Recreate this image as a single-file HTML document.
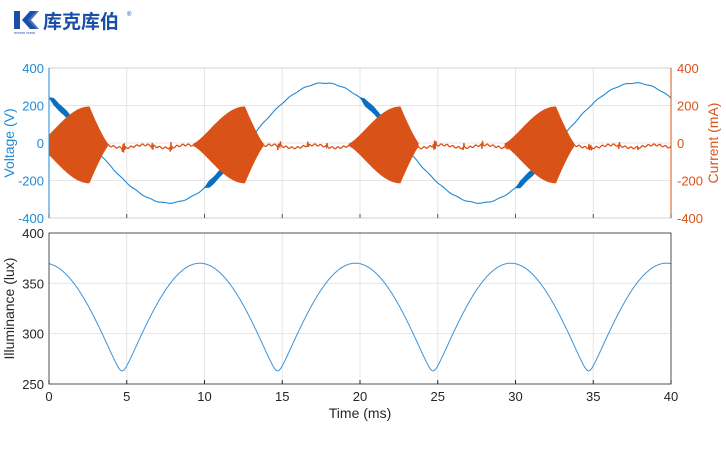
<!DOCTYPE html>
<html><head><meta charset="utf-8"><style>
body{margin:0;background:#fff;width:726px;height:450px;overflow:hidden;font-family:"Liberation Sans",sans-serif}
svg{position:absolute;left:0;top:0}
</style></head><body>
<svg id="s" width="726" height="450" xmlns="http://www.w3.org/2000/svg">
<g>
<polygon points="14,11 20,11 20,29 14,29" fill="#1a4fa8"/>
<polygon points="22,20 30,11 36,11 28,20 36,29 30,29" fill="#1a4fa8"/>
<polygon points="27,20 35,11 39,11 31,20 39,29 35,29" fill="#1a4fa8" opacity="0.8"/>
<text x="43" y="28" font-family="'Noto Sans CJK SC',sans-serif" font-weight="bold" font-size="19" fill="#1a4fa8">库克库伯</text>
<text x="127" y="16" font-size="6" fill="#1a4fa8">®</text>
<text x="14" y="34" font-size="4" fill="#1a4fa8">nnnnn nnnn</text>
</g>
<g id="grid" stroke="#e6e6e6" stroke-width="1"></g>
<g id="data"></g>
<g id="axes" font-size="13"></g>
</svg>
<script>
const NS="http://www.w3.org/2000/svg";
function el(p,t,a,txt){const e=document.createElementNS(NS,t);for(const k in a)e.setAttribute(k,a[k]);if(txt!==undefined)e.textContent=txt;document.getElementById(p).appendChild(e);return e;}
const X0=49,X1=671,T1={y0:68,y1:218},B={y0:233,y1:384};
const X=t=>X0+(X1-X0)*t/40;
const YT=v=>T1.y1-(v+400)/800*(T1.y1-T1.y0);
const YB=v=>B.y1-(v-250)/150*(B.y1-B.y0);
for(let t=5;t<40;t+=5){el("grid","line",{x1:X(t),x2:X(t),y1:T1.y0,y2:T1.y1});el("grid","line",{x1:X(t),x2:X(t),y1:B.y0,y2:B.y1});}
for(let v=-200;v<=200;v+=200)el("grid","line",{x1:X0,x2:X1,y1:YT(v),y2:YT(v)});
for(let v=300;v<=350;v+=50)el("grid","line",{x1:X0,x2:X1,y1:YB(v),y2:YB(v)});
const V=t=>320*Math.cos(2*Math.PI*(t+2.3)/20)+2*Math.sin(t*7);
let p="";for(let t=0;t<=40;t+=0.05)p+=(t?"L":"M")+X(t).toFixed(1)+","+YT(V(t)).toFixed(1);
el("data","path",{d:p,fill:"none",stroke:"#1f8ad6","stroke-width":1.1});
const starts=[-0.7,9.3,19.3,29.3];
starts.forEach(s=>{let a="",b="";const t0=Math.max(0,s+0.7),t1=s+2.6;
 for(let t=t0;t<=t1+0.001;t+=0.05){const w=Math.min(18,(t-t0)/0.3*18,(t1-t)/0.3*18)+2;a+=(a?"L":"M")+X(t).toFixed(1)+","+YT(V(t)+w).toFixed(1);b="L"+X(t).toFixed(1)+","+YT(V(t)-w).toFixed(1)+b;}
 el("data","path",{d:a+b+"Z",fill:"#0a6fc0"});});
let c="";for(let t=0;t<=40;t+=0.04){let v=-18+8*Math.sin(t*2.3)+5*Math.sin(t*17);const tm=(t+0.7)%10;if(tm>5.4&&tm<5.6||tm>7.3&&tm<7.4||tm>8.5&&tm<8.6)v+=25*Math.sin(t*90);c+=(t?"L":"M")+X(t).toFixed(1)+","+YT(v).toFixed(1);}
el("data","path",{d:c,fill:"none",stroke:"#d95319","stroke-width":1.3});
function env(u){
 if(u<0||u>4.5)return 0; if(u<3.3)return 8+197*Math.pow(Math.sin(Math.PI/2*u/3.3),1.3); return 8+197*Math.pow((4.5-u)/1.2,1.2);}
starts.forEach(s=>{let a="",b="";for(let t=Math.max(0,s);t<=s+4.5;t+=0.03){const e=env(t-s);a+=(a?"L":"M")+X(t).toFixed(1)+","+YT(e-10).toFixed(1);b="L"+X(t).toFixed(1)+","+YT(-e-10).toFixed(1)+b;}
 el("data","path",{d:a+b+"Z",fill:"#d95319"});});
let l="";const eps=0.08,norm=Math.sqrt(1+eps*eps)-eps;
for(let t=0;t<=40;t+=0.05){const sn=Math.sin(Math.PI*(t-4.7)/10);const f=(Math.sqrt(sn*sn+eps*eps)-eps)/norm;const v=263+107*f;l+=(t?"L":"M")+X(t).toFixed(1)+","+YB(v).toFixed(1);}
el("data","path",{d:l,fill:"none",stroke:"#3d93d8","stroke-width":1});
el("axes","rect",{x:X0,y:T1.y0,width:X1-X0,height:T1.y1-T1.y0,fill:"none",stroke:"#d0d0d0"});
el("axes","line",{x1:X0,x2:X0,y1:T1.y0,y2:T1.y1,stroke:"#1f8ad6"});
el("axes","line",{x1:X1,x2:X1,y1:T1.y0,y2:T1.y1,stroke:"#d95319"});
el("axes","rect",{x:X0,y:B.y0,width:X1-X0,height:B.y1-B.y0,fill:"none",stroke:"#262626","stroke-width":0.8});
for(let v=-400;v<=400;v+=200){el("axes","text",{x:X0-5,y:YT(v)+5,"text-anchor":"end",fill:"#1f8ad6"},v);el("axes","text",{x:X1+6,y:YT(v)+5,fill:"#d95319"},v);}
for(let v=250;v<=400;v+=50)el("axes","text",{x:X0-5,y:YB(v)+5,"text-anchor":"end",fill:"#262626"},v);
for(let t=0;t<=40;t+=5){el("axes","text",{x:X(t),y:401,"text-anchor":"middle",fill:"#262626"},t);el("axes","line",{x1:X(t),x2:X(t),y1:B.y1,y2:B.y1-4,stroke:"#262626"});el("axes","line",{x1:X(t),x2:X(t),y1:T1.y1,y2:T1.y1-4,stroke:"#555"});}
el("axes","text",{x:X(20),y:418,"text-anchor":"middle",fill:"#262626","font-size":14},"Time (ms)");
el("axes","text",{x:0,y:0,transform:`translate(14,${(T1.y0+T1.y1)/2}) rotate(-90)`,"text-anchor":"middle",fill:"#1f8ad6","font-size":14},"Voltage (V)");
el("axes","text",{x:0,y:0,transform:`translate(718,${(T1.y0+T1.y1)/2}) rotate(-90)`,"text-anchor":"middle",fill:"#d95319","font-size":14},"Current (mA)");
el("axes","text",{x:0,y:0,transform:`translate(14,${(B.y0+B.y1)/2}) rotate(-90)`,"text-anchor":"middle",fill:"#262626","font-size":14},"Illuminance (lux)");
</script>
</body></html>
